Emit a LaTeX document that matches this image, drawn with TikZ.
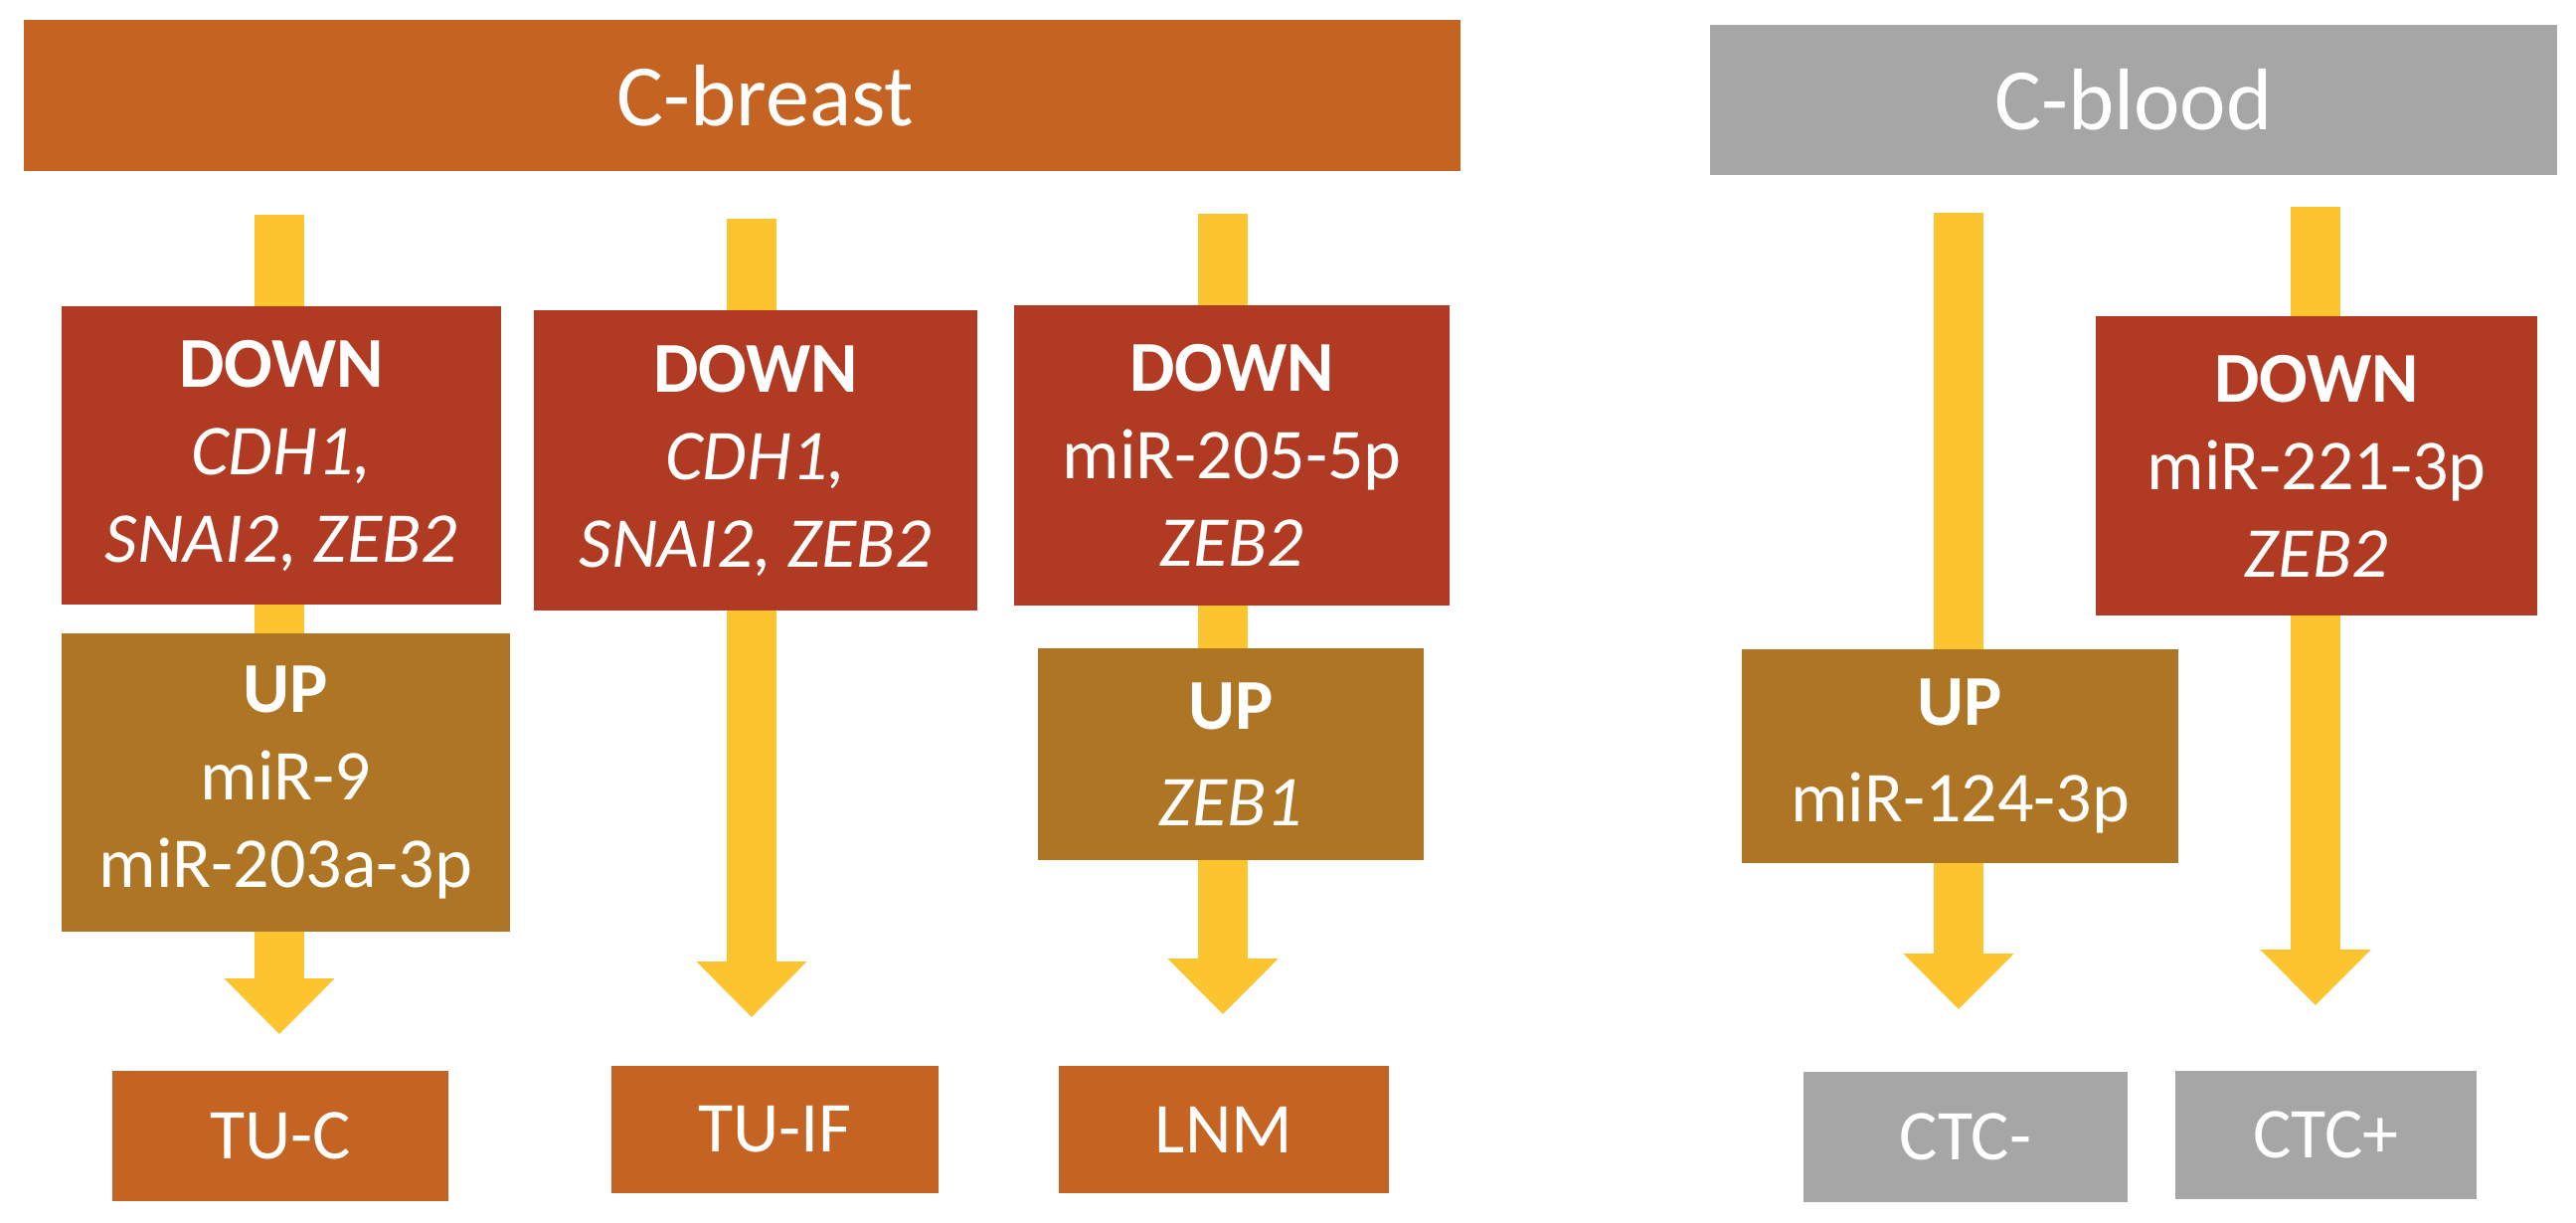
\documentclass[tikz,border=0pt]{standalone}
\usepackage{fontspec}
\setmainfont{Carlito}
\usetikzlibrary{arrows.meta}
\definecolor{cbreast}{RGB}{197,99,35}
\definecolor{cdown}{RGB}{176,58,34}
\definecolor{cup}{RGB}{174,117,36}
\definecolor{cgray}{RGB}{166,166,166}
\definecolor{cyel}{RGB}{252,196,46}
\begin{document}
\begin{tikzpicture}[x=1pt,y=-1pt,
  box/.style={inner sep=0pt, outer sep=0pt, draw=none, text=white, align=center,
    font=\fontsize{72}{88}\selectfont},
  hdr/.style={inner sep=0pt, outer sep=0pt, draw=none},
  hdrtxt/.style={inner sep=0pt, text=white, font=\fontsize{88}{100}\selectfont},
  downbox/.style={box, fill=cdown},
  upbox/.style={box, fill=cup},
  endbox/.style={box, fill=cbreast},
  graybox/.style={box, fill=cgray},
  yarrow/.style={draw=cyel, line width=50pt, -{Triangle[width=108pt,length=56pt]}}
]
\useasboundingbox (0,0) rectangle (2591,1230);
\fill[white] (0,0) rectangle (2591,1230);

% headers
\node[hdr, fill=cbreast, minimum width=1445pt, minimum height=152pt] (hb) at (746.5,96) {};
\node[hdrtxt] (hbt) at (770,96) {C-breast};
\node[hdr, fill=cgray, minimum width=852pt, minimum height=151pt] (hg) at (2146,100.5) {};
\node[hdrtxt] (hgt) at (2146,100.5) {C-blood};

% arrow end points
\coordinate (s1) at (281,216);  \coordinate (e1) at (281,1040);
\coordinate (s2) at (756,220);  \coordinate (e2) at (756,1023);
\coordinate (s3) at (1230,215); \coordinate (e3) at (1230,1020);
\coordinate (s4) at (1970,214); \coordinate (e4) at (1970,1015);
\coordinate (s5) at (2329,208); \coordinate (e5) at (2329,1011);
\foreach \i in {1,...,5} {\draw[yarrow] (s\i) -- (e\i);}

% column 1
\node[downbox, minimum width=442pt, minimum height=300pt] (d1) at (283,458)
  {\bfseries DOWN\\ \itshape CDH1,\\ \itshape SNAI2, ZEB2};
\node[upbox, minimum width=451pt, minimum height=300pt] (u1) at (287.5,787)
  {\bfseries UP\\ miR-9\\ miR-203a-3p};
\node[endbox, minimum width=338pt, minimum height=131pt] (tuc) at (282,1142.5) {TU-C};

% column 2
\node[downbox, minimum width=446pt, minimum height=302pt] (d2) at (760,463)
  {\bfseries DOWN\\ \itshape CDH1,\\ \itshape SNAI2, ZEB2};
\node[endbox, minimum width=329pt, minimum height=128pt] (tuif) at (779.5,1136) {TU-IF};

% column 3
\node[downbox, minimum width=438pt, minimum height=302pt] (d3) at (1239,458)
  {\bfseries DOWN\\ miR-205-5p\\ \itshape ZEB2};
\node[upbox, minimum width=388pt, minimum height=213pt, font=\fontsize{72}{97}\selectfont] (u3) at (1238,758.5)
  {\bfseries UP\\ \itshape ZEB1};
\node[endbox, minimum width=332pt, minimum height=128pt] (lnm) at (1231,1136) {LNM};

% column 4
\node[upbox, minimum width=439pt, minimum height=215pt, font=\fontsize{72}{97}\selectfont] (u4) at (1971.5,760.5)
  {\bfseries UP\\ miR-124-3p};
\node[graybox, minimum width=326pt, minimum height=131pt] (ctcm) at (1977,1143.5) {CTC-};

% column 5
\node[downbox, minimum width=444pt, minimum height=301pt] (d5) at (2330,468.5)
  {\bfseries DOWN\\ miR-221-3p\\ \itshape ZEB2};
\node[graybox, minimum width=303pt, minimum height=129pt] (ctcp) at (2339.5,1141.5) {CTC+};
\end{tikzpicture}
\end{document}
